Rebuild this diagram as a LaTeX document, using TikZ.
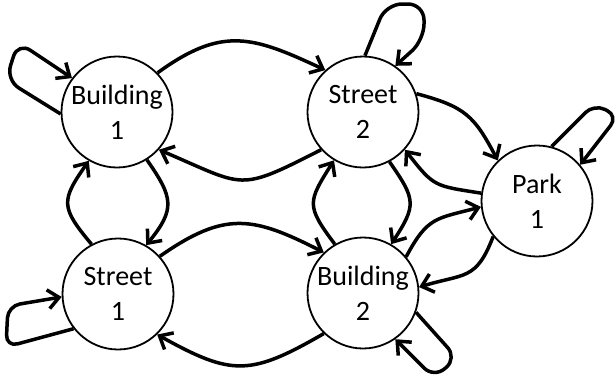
\documentclass[tikz,border=0pt]{standalone}
\usepackage{fontspec}
\setmainfont{Carlito}
\usetikzlibrary{arrows.meta}
\begin{document}
\begin{tikzpicture}[x=1pt,y=-1pt,
  state/.style={circle,draw,line width=1.8pt,minimum size=111pt,inner sep=0pt,
    align=center,font=\fontsize{28}{35}\selectfont},
  edge/.style={line width=3.5pt,-{Straight Barb[length=11pt,width=19pt]}}]
\useasboundingbox (0,0) rectangle (616,383);

% states
\node[state] (b1) at (117,112) {Building\\1};
\node[state] (s2) at (363,112) {Street\\2};
\node[state] (p1) at (537,201) {Park\\1};
\node[state] (s1) at (118,294) {Street\\1};
\node[state] (b2) at (363,293) {Building\\2};

% horizontal transitions
\draw[edge] (b1.44)  to[out=36,in=155,looseness=1.22] (s2.132);
\draw[edge] (s2.222) to[out=207,in=-23,looseness=1.50] (b1.318);
\draw[edge] (s1.42)  to[out=35,in=153,looseness=1.24] (b2.134);
\draw[edge] (b2.226) to[out=210,in=-29,looseness=1.31] (s1.314);

% vertical transitions
\draw[edge] (b1.302) to[out=-55,in=51,looseness=1.39] (s1.60);
\draw[edge] (s1.118) to[out=130,in=235,looseness=1.49] (b1.240);
\draw[edge] (s2.298) to[out=-55,in=57,looseness=1.44] (b2.60);
\draw[edge] (b2.120) to[out=127,in=238,looseness=1.49] (s2.239);

% transitions to and from the park
\draw[edge] (s2.19)  to[out=-15,in=118,looseness=1.23] (p1.134);
\draw[edge] (p1.172) to[out=171,in=-52,looseness=1.39] (s2.318);
\draw[edge] (b2.40)  to[out=62,in=195,looseness=1.31] (p1.186);
\draw[edge] (p1.219) to[out=249,in=17,looseness=1.36] (b2.6);

% self loops
\draw[edge,rounded corners=15pt] (b1.182) -- (6,80) -- (18,42) -- (b1.143);
\draw[edge,rounded corners=16pt] (s2.88) -- (386,4) -- (424,4) -- (424,40) -- (s2.55);
\draw[edge,rounded corners=12pt] (p1.75) -- (594,104) -- (618,116) -- (p1.40);
\draw[edge,rounded corners=12pt] (s1.218) -- (6,347) -- (8,306) -- (s1.183);
\draw[edge,rounded corners=14pt] (b2.-20) -- (457,358) -- (434,378) -- (b2.-55);
\end{tikzpicture}
\end{document}
